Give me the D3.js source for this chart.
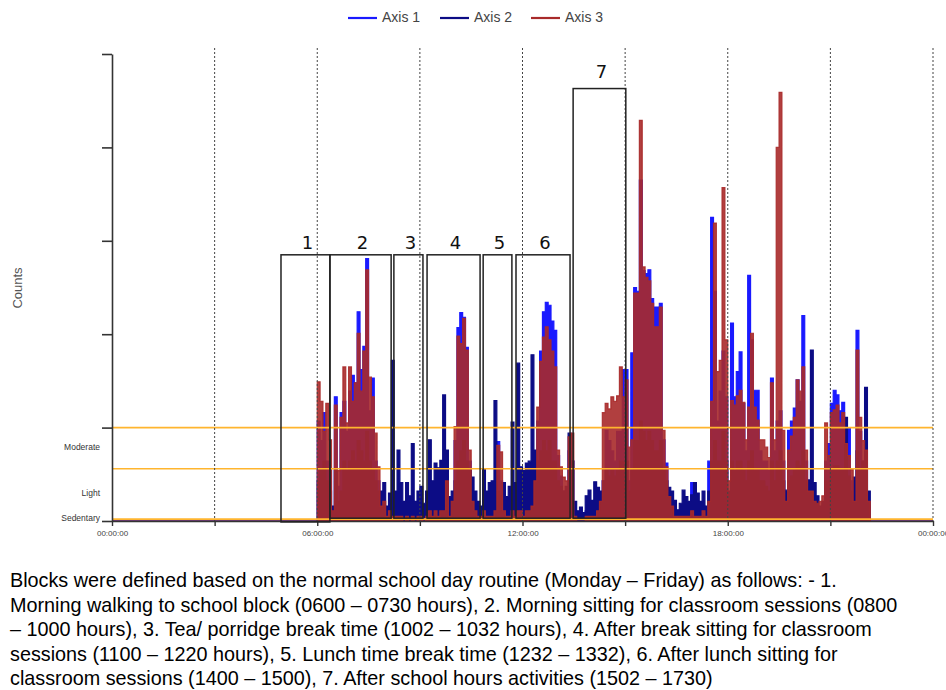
<!DOCTYPE html>
<html>
<head>
<meta charset="utf-8">
<script src="https://cdn.jsdelivr.net/npm/d3@7"></script>
<style>
  body { margin: 0; background: #fff; }
  svg text { font-family: "Liberation Sans", Arial, sans-serif; }
</style>
</head>
<body>
<svg id="chart" width="946" height="690"></svg>
<script>
// samples are 5-minute epochs starting at 06:00
const startHour = 6;
const stepMinutes = 5;

// Axis 1 (blue)
const axis1 = [
  1070,860,1160,640,540,50,1330,370,1160,1280,
  960,1390,1560,1480,2240,1620,1870,2810,1180,1530,
  640,430,110,160,110,110,210,160,160,110,
  110,160,110,210,110,110,160,110,110,210,
  160,210,160,210,270,320,110,160,860,2070,
  2230,2180,1860,640,160,110,110,50,160,110,
  110,110,210,850,430,110,110,110,210,110,
  270,160,160,160,210,270,320,1070,1820,2240,
  2340,2310,2140,2040,700,480,320,320,750,640,
  110,50,50,50,110,110,110,160,210,210,
  430,970,860,750,640,960,960,1620,1620,430,
  1800,2500,2460,3650,2680,2650,2690,2380,2290,2290,
  2330,870,620,210,160,110,50,110,160,110,
  110,410,160,110,110,160,110,640,3250,2460,
  1070,1390,1820,1330,270,2120,1330,1600,1810,1260,
  750,2630,1940,1400,1400,750,640,640,540,1530,
  750,1070,1180,640,160,970,1070,1210,1510,1280,
  2200,640,210,270,160,160,110,160,640,830,
  1260,1400,1350,1180,1270,860,1000,430,160,2040,
  960,640,540,160
];

// Axis 2 (navy)
const axis2 = [
  430,540,640,430,320,160,540,210,320,640,
  540,640,750,640,860,750,640,960,640,540,
  430,320,320,410,160,300,1720,320,760,410,
  210,410,270,830,210,320,370,190,320,870,
  430,620,570,650,1350,760,260,320,430,640,
  750,860,640,540,470,320,210,160,550,320,
  410,430,1290,320,270,410,260,370,1060,410,
  1690,580,540,620,640,1780,760,640,750,860,
  750,860,640,640,430,370,320,370,940,640,
  210,110,150,90,270,330,220,420,360,320,
  430,540,480,540,480,540,640,640,640,320,
  540,860,860,1070,960,860,960,860,750,750,
  860,540,430,360,320,220,120,190,330,260,
  210,280,410,300,210,320,160,320,640,860,
  640,640,960,640,320,640,540,640,640,540,
  430,640,750,540,540,430,430,370,320,640,
  430,640,750,430,330,430,480,540,640,590,
  750,430,440,1830,410,270,160,210,430,430,
  540,590,590,540,540,1110,480,320,470,750,
  540,640,1430,320
];

// Axis 3 (red)
const axis3 = [
  1490,1280,960,1260,870,110,1240,540,1110,1650,
  1050,1650,1280,1480,2010,1390,1820,2690,1540,1330,
  940,580,160,210,50,110,50,50,50,50,
  0,50,0,50,0,50,50,0,50,110,
  50,110,50,110,110,430,50,210,1010,1980,
  1900,2170,1830,760,210,110,50,50,110,50,
  50,50,110,810,740,110,50,50,110,50,
  110,110,50,110,110,160,430,1220,1710,1970,
  2080,1940,1820,1650,760,580,470,430,900,940,
  50,0,0,0,50,50,50,50,110,210,
  1160,1260,1200,1330,1280,1340,1650,1330,1510,790,
  870,2440,2440,4290,2720,2610,2570,2330,2080,2080,
  2290,970,580,260,160,50,50,50,50,50,
  50,110,50,50,50,110,50,210,1280,3190,
  1600,1720,3570,1940,430,1290,1240,1340,1400,1270,
  870,1220,2010,1220,1080,870,870,790,680,1480,
  870,4000,4590,970,210,760,910,1110,1510,1390,
  1650,760,320,320,210,190,210,270,1050,700,
  1160,1190,1240,1050,1160,830,700,550,210,1830,
  1110,860,760,210
];

const seriesNames = ["Axis 1", "Axis 2", "Axis 3"];

const xTickHours = [0, 3, 6, 9, 12, 15, 18, 21, 24];
const xLabelHours = [0, 6, 12, 18, 24];
const yTickCounts = [0, 1000, 2000, 3000, 4000, 5000];

const levelNames = ["Sedentary", "Light", "Moderate"];
const levelCuts = [20, 560, 1000];

// blocks as drawn over the plot (decimal hours, counts)
const blockIds = ["1", "2", "3", "4", "5", "6", "7"];
const blockStart = [4.94, 6.37, 8.24, 9.21, 10.85, 11.81, 13.48];
const blockEnd = [6.37, 8.16, 9.09, 10.76, 11.69, 13.39, 15.02];
const blockTop = [2850, 2850, 2850, 2850, 2850, 2850, 4630];
const blockBottom = [-10, 30, 30, 30, 30, 30, 30];

const captionLines = [
  "Blocks were defined based on the normal school day routine (Monday \u2013 Friday) as follows: - 1.",
  "Morning walking to school block (0600 \u2013 0730 hours), 2. Morning sitting for classroom sessions (0800",
  "\u2013 1000 hours), 3. Tea/ porridge break time (1002 \u2013 1032 hours), 4. After break sitting for classroom",
  "sessions (1100 \u2013 1220 hours), 5. Lunch time break time (1232 \u2013 1332), 6. After lunch sitting for",
  "classroom sessions (1400 \u2013 1500), 7. After school hours activities (1502 \u2013 1730)"
];

const colors = { "Axis 1": "#1a1aff", "Axis 2": "#0c0c85", "Axis 3": "#a82a2a" };

const svg = d3.select("#chart");

const x = d3.scaleLinear().domain([0, 24]).range([112, 933]);
const y = d3.scaleLinear().domain([0, 5000]).range([521, 54]);

function toPoints(values) {
  const pts = [[0, 0]];
  values.forEach((v, i) => pts.push([startHour + i * stepMinutes / 60, v]));
  pts.push([startHour + values.length * stepMinutes / 60, 0]);
  pts.push([24, 0]);
  return pts;
}

const series = [
  { name: "Axis 1", points: toPoints(axis1) },
  { name: "Axis 2", points: toPoints(axis2) },
  { name: "Axis 3", points: toPoints(axis3) }
];

const area = d3.area()
  .curve(d3.curveStepAfter)
  .x(d => x(d[0]))
  .y0(y(0))
  .y1(d => y(d[1]));

const line = d3.line()
  .curve(d3.curveStepAfter)
  .x(d => x(d[0]))
  .y(d => y(d[1]));

const plot = svg.append("g");

series.forEach(s => {
  const op = s.name === "Axis 3" ? 0.9 : 1;
  plot.append("path")
    .attr("d", area(s.points))
    .attr("fill", colors[s.name])
    .attr("fill-opacity", op);
  plot.append("path")
    .attr("d", line(s.points))
    .attr("fill", "none")
    .attr("stroke", colors[s.name])
    .attr("stroke-opacity", op)
    .attr("stroke-width", 1.2);
});

// intensity cut lines
svg.append("g").selectAll("line")
  .data(levelCuts)
  .join("line")
  .attr("x1", x(0)).attr("x2", x(24))
  .attr("y1", d => y(d)).attr("y2", d => y(d))
  .attr("stroke", "#ffb52e")
  .attr("stroke-width", 1.6);

// level labels
const levelMid = levelCuts.map((c, i) => i === 0 ? c : (c + levelCuts[i - 1]) / 2);
svg.append("g").selectAll("text")
  .data(levelNames)
  .join("text")
  .attr("x", 100)
  .attr("y", (d, i) => y(levelMid[i]))
  .attr("text-anchor", "end")
  .attr("dominant-baseline", "middle")
  .attr("font-size", 8.5)
  .attr("fill", "#333")
  .text(d => d);

// dashed hour guides
svg.append("g").selectAll("line")
  .data(xTickHours.filter(h => h > 0))
  .join("line")
  .attr("x1", d => x(d)).attr("x2", d => x(d))
  .attr("y1", 48).attr("y2", y(0))
  .attr("stroke", "#444")
  .attr("stroke-width", 1)
  .attr("stroke-dasharray", "2,2");

// axes
const xAxis = svg.append("g")
  .attr("transform", `translate(0,${y(0)})`)
  .call(d3.axisBottom(x)
    .tickValues(xTickHours)
    .tickSize(5)
    .tickSizeOuter(0)
    .tickFormat(h => xLabelHours.includes(h) ? String(h % 24).padStart(2, "0") + ":00:00" : ""));
xAxis.select(".domain").attr("stroke", "#333").attr("stroke-width", 1.6);
xAxis.selectAll(".tick line").attr("stroke", "#333").attr("stroke-width", 1.4);
xAxis.selectAll(".tick text")
  .attr("font-size", 8)
  .attr("fill", "#444")
  .attr("dy", "0.9em")
  .style("font-family", "'Liberation Sans', Arial, sans-serif");

const yAxis = svg.append("g")
  .attr("transform", `translate(${x(0)},0)`)
  .call(d3.axisLeft(y).tickValues(yTickCounts).tickSize(10).tickSizeOuter(0).tickFormat(""));
yAxis.select(".domain").attr("stroke", "#333").attr("stroke-width", 1.6);
yAxis.selectAll(".tick line").attr("stroke", "#333").attr("stroke-width", 1.6);

svg.append("text")
  .attr("transform", "translate(22,288) rotate(-90)")
  .attr("text-anchor", "middle")
  .attr("font-size", 13)
  .attr("fill", "#555")
  .text("Counts");

// blocks
const blocks = svg.append("g");
blockIds.forEach((id, i) => {
  blocks.append("rect")
    .attr("x", x(blockStart[i]))
    .attr("y", y(blockTop[i]))
    .attr("width", x(blockEnd[i]) - x(blockStart[i]))
    .attr("height", y(blockBottom[i]) - y(blockTop[i]))
    .attr("fill", "none")
    .attr("stroke", "#222")
    .attr("stroke-width", 1.5);
  blocks.append("text")
    .attr("x", (x(blockStart[i]) + x(blockEnd[i])) / 2 + 2)
    .attr("y", y(blockTop[i]) - (id === "7" ? 11 : 6))
    .attr("text-anchor", "middle")
    .attr("font-size", 18)
    .attr("fill", "#111")
    .style("font-family", "'DejaVu Sans', Verdana, sans-serif")
    .text(id);
});

// legend
const legendX = [348, 440, 531];
const legend = svg.append("g");
seriesNames.forEach((name, i) => {
  legend.append("line")
    .attr("x1", legendX[i]).attr("x2", legendX[i] + 29)
    .attr("y1", 18).attr("y2", 18)
    .attr("stroke", colors[name])
    .attr("stroke-width", 2.2);
  legend.append("text")
    .attr("x", legendX[i] + 34)
    .attr("y", 18)
    .attr("dominant-baseline", "middle")
    .attr("font-size", 14)
    .attr("fill", "#444")
    .text(name);
});

// caption
svg.append("g").selectAll("text")
  .data(captionLines)
  .join("text")
  .attr("x", 10)
  .attr("y", (d, i) => 587 + i * 24.5)
  .attr("font-size", 19.8)
  .attr("fill", "#000")
  .text(d => d);
</script>
</body>
</html>
